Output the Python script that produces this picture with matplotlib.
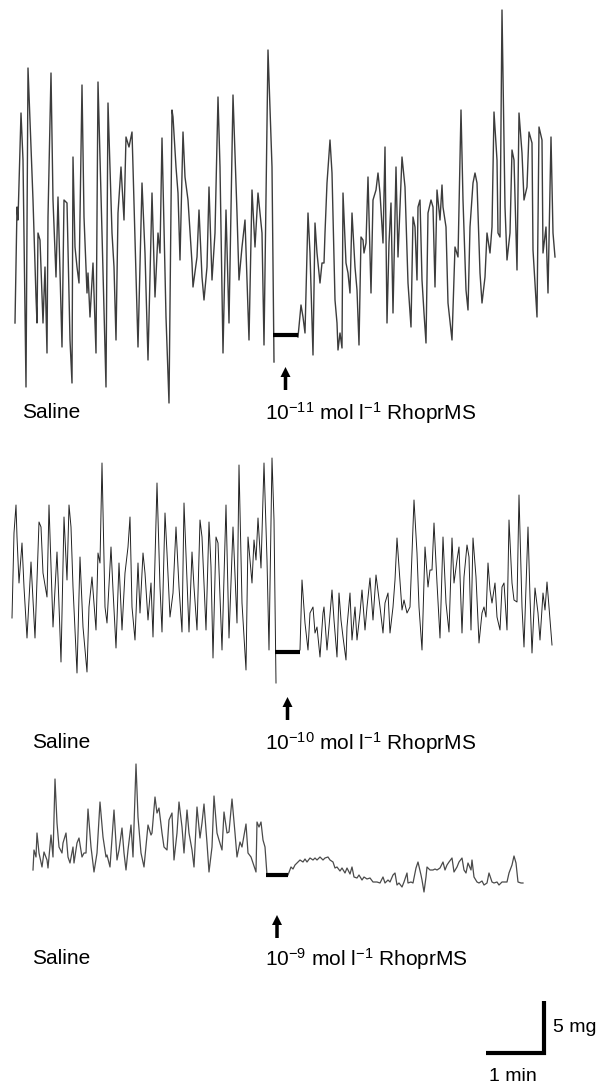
import numpy as np
import matplotlib
matplotlib.use('Agg')
import matplotlib.pyplot as plt
from matplotlib.patches import FancyArrow

plt.rcParams['font.family'] = ['Liberation Sans', 'DejaVu Sans']
plt.rcParams['mathtext.fontset'] = 'custom'
plt.rcParams['mathtext.rm'] = 'Liberation Sans'
plt.rcParams['mathtext.it'] = 'Liberation Sans'

# traces (x, y in page pixels, y down)
# top: saline then 10^-11
top_pre_x = [15, 17, 18, 21, 23, 26, 28, 31, 33, 36, 37, 38, 40, 43, 45, 47, 48, 51, 53, 56, 58, 62, 64, 67, 70, 72, 73, 75, 77, 79,
             82, 84, 87, 88, 90, 93, 96, 98, 102, 106, 108, 112, 114, 116, 118, 121, 124, 126, 129, 132, 133, 138, 142, 145, 148,
             152, 155, 158, 160, 162, 166, 169, 172, 173, 176, 178, 180, 183, 185, 188, 192, 193, 197, 199, 202, 204, 207, 209,
             212, 215, 218, 220, 223, 226, 229, 233, 237, 239, 242, 245, 249, 252, 255, 258, 262, 264, 268, 272, 274]
top_pre_y = [323, 207, 220, 113, 160, 387, 68, 147, 200, 297, 323, 233, 240, 323, 267, 353, 217, 73, 200, 277, 197, 347, 200, 203,
             340, 383, 157, 247, 267, 283, 85, 217, 293, 273, 317, 263, 353, 82, 233, 387, 103, 233, 267, 340, 213, 167, 220, 137,
             147, 132, 167, 347, 183, 253, 360, 193, 297, 233, 253, 138, 317, 403, 110, 117, 167, 193, 260, 132, 177, 200, 263,
             287, 257, 210, 277, 300, 267, 187, 280, 233, 97, 167, 353, 210, 323, 95, 213, 280, 247, 220, 340, 190, 247, 193, 233,
             345, 50, 167, 362]
top_post_x = [298, 301, 303, 305, 308, 310, 313, 315, 317, 320, 322, 324, 325, 327, 330, 332, 335, 337, 338, 340, 342, 343, 346,
              348, 350, 352, 355, 357, 359, 361, 363, 364, 366, 368, 371, 373, 376, 378, 380, 383, 385, 387, 389, 391, 393, 396,
              398, 402, 405, 408, 411, 413, 415, 417, 418, 420, 422, 424, 426, 428, 431, 433, 435, 437, 440, 442, 443, 446, 448,
              452, 455, 458, 461, 463, 466, 468, 470, 473, 475, 477, 480, 482, 485, 487, 490, 492, 494, 497, 498, 500, 502, 505,
              507, 510, 512, 514, 517, 519, 522, 524, 527, 529, 532, 533, 537, 539, 542, 543, 546, 548, 551, 553, 555]
top_post_y = [337, 305, 317, 333, 213, 253, 355, 223, 253, 283, 263, 263, 233, 183, 140, 173, 300, 323, 350, 333, 348, 193, 263,
              273, 293, 213, 267, 290, 345, 237, 240, 253, 243, 177, 293, 200, 190, 173, 193, 243, 147, 323, 243, 203, 313, 167,
              257, 157, 187, 283, 327, 217, 227, 280, 207, 200, 280, 313, 343, 213, 200, 207, 287, 190, 220, 185, 207, 227, 303,
              340, 247, 257, 110, 200, 290, 310, 227, 183, 173, 183, 273, 303, 277, 233, 253, 227, 112, 160, 233, 237, 10, 207,
              260, 233, 150, 160, 270, 113, 153, 200, 187, 132, 143, 250, 317, 127, 140, 253, 227, 293, 137, 233, 257]

# middle: saline then 10^-10
mid_pre_x = [12, 14, 16, 17, 19, 22, 24, 27, 31, 35, 39, 41, 43, 47, 49, 53, 57, 58, 61, 64, 67, 69, 71, 73, 77, 80, 83, 87, 89,
             92, 96, 98, 100, 102, 105, 107, 111, 113, 116, 119, 122, 125, 128, 130, 132, 135, 138, 140, 143, 145, 148, 151,
             153, 157, 160, 162, 165, 167, 170, 173, 176, 179, 182, 184, 187, 189, 192, 194, 197, 200, 202, 206, 209, 211, 213,
             216, 218, 222, 226, 229, 233, 237, 239, 242, 246, 248, 252, 254, 256, 258, 261, 264, 267, 269, 272, 274, 276]
mid_pre_y = [618, 533, 505, 537, 583, 543, 587, 638, 562, 638, 522, 527, 573, 597, 505, 627, 552, 577, 662, 517, 580, 505, 527,
             587, 673, 557, 627, 672, 607, 577, 630, 553, 563, 463, 607, 623, 547, 590, 648, 563, 630, 573, 547, 517, 607, 640,
             563, 613, 553, 573, 620, 583, 637, 483, 587, 632, 513, 553, 617, 593, 527, 587, 632, 503, 580, 632, 552, 587, 630,
             520, 537, 630, 522, 567, 658, 537, 543, 650, 505, 638, 527, 623, 465, 603, 670, 537, 583, 540, 560, 518, 568, 463,
             560, 650, 458, 520, 683]
mid_post_x = [300, 302, 305, 308, 310, 313, 315, 317, 320, 323, 324, 327, 329, 332, 334, 337, 339, 341, 343, 346, 347, 350, 352,
              355, 357, 360, 362, 365, 367, 370, 373, 376, 380, 383, 385, 388, 390, 393, 395, 397, 399, 402, 404, 407, 410, 414,
              417, 419, 422, 425, 428, 430, 432, 434, 437, 440, 443, 446, 449, 452, 454, 457, 459, 462, 464, 467, 469, 471, 473,
              476, 479, 482, 484, 486, 488, 490, 492, 495, 497, 500, 502, 504, 507, 509, 512, 514, 517, 519, 522, 524, 526, 528,
              530, 532, 535, 538, 540, 543, 545, 547, 549, 552]
mid_post_y = [650, 580, 623, 650, 613, 607, 633, 627, 657, 613, 607, 650, 627, 590, 620, 657, 593, 620, 637, 660, 627, 593, 640,
              607, 640, 613, 590, 630, 607, 578, 620, 575, 607, 633, 603, 593, 633, 607, 580, 538, 567, 610, 600, 613, 607, 500,
              553, 607, 650, 547, 587, 570, 570, 523, 583, 638, 537, 603, 632, 538, 583, 560, 547, 633, 577, 545, 557, 630, 538,
              577, 643, 613, 607, 617, 563, 590, 603, 583, 617, 630, 587, 583, 630, 520, 583, 600, 602, 495, 607, 647, 587, 527,
              597, 653, 588, 613, 640, 593, 610, 582, 607, 645]

# bottom: saline then 10^-9
bot_pre_x = [33, 34, 36, 37, 39, 42, 44, 47, 48, 51, 53, 55, 57, 59, 62, 63, 66, 68, 70, 73, 74, 77, 79, 82, 84, 86, 88, 91, 94,
             97, 100, 103, 106, 107, 110, 114, 117, 119, 122, 124, 126, 128, 131, 133, 136, 138, 141, 144, 148, 151, 152, 155,
             157, 159, 162, 164, 167, 169, 172, 174, 177, 179, 182, 184, 187, 189, 192, 194, 197, 200, 202, 204, 207, 209, 212,
             214, 217, 219, 222, 224, 227, 229, 232, 235, 237, 240, 242, 246, 248, 251, 253, 256, 257, 259, 261, 263, 265, 267]
bot_pre_y = [870, 850, 857, 833, 853, 867, 852, 860, 868, 835, 857, 779, 823, 847, 853, 843, 833, 857, 863, 847, 863, 843, 838,
             857, 853, 853, 809, 847, 872, 853, 802, 837, 857, 855, 867, 810, 860, 850, 828, 853, 870, 850, 825, 857, 764, 817,
             853, 867, 825, 835, 833, 797, 813, 808, 833, 847, 850, 820, 813, 860, 833, 802, 827, 853, 810, 833, 850, 867, 807,
             838, 823, 804, 843, 872, 847, 796, 833, 840, 850, 812, 833, 832, 799, 833, 857, 842, 847, 824, 853, 857, 863, 872,
             822, 827, 822, 840, 847, 875]
bot_post_x = [288, 291, 293, 295, 297, 300, 303, 305, 307, 310, 313, 315, 317, 320, 323, 325, 328, 330, 333, 335, 337, 340, 342,
              345, 347, 350, 352, 354, 357, 359, 362, 364, 367, 370, 373, 377, 380, 383, 385, 388, 390, 393, 395, 397, 399, 402,
              404, 407, 408, 411, 413, 416, 418, 421, 422, 424, 426, 427, 430, 433, 435, 437, 440, 443, 445, 447, 449, 452, 454,
              457, 459, 462, 464, 466, 468, 471, 472, 474, 477, 479, 482, 484, 487, 489, 492, 494, 497, 499, 502, 504, 507, 509,
              512, 514, 516, 518, 521, 523]
bot_post_y = [875, 867, 869, 865, 863, 860, 862, 859, 862, 858, 860, 858, 860, 857, 860, 858, 857, 860, 862, 868, 867, 871, 868,
              873, 868, 874, 867, 877, 878, 875, 880, 877, 879, 878, 882, 882, 883, 877, 883, 880, 882, 875, 873, 885, 883, 887,
              882, 873, 883, 882, 883, 868, 862, 875, 880, 892, 877, 867, 870, 870, 869, 870, 868, 862, 870, 865, 862, 858, 872,
              867, 862, 858, 870, 873, 863, 870, 860, 877, 882, 883, 881, 885, 883, 873, 882, 883, 882, 885, 882, 882, 882, 873,
              865, 856, 863, 882, 883, 883]

bar_levels = [335, 652, 875]
concs = ['-11', '-10', '-9']
saline_x = [22, 32, 32]
label_base = [420, 750, 966]
arrow_tails = [390, 720, 938]

panels = [
    (top_pre_x, top_pre_y, top_post_x, top_post_y, '#3c3c3c', 1.0),
    (mid_pre_x, mid_pre_y, mid_post_x, mid_post_y, '#222222', 0.7),
    (bot_pre_x, bot_pre_y, bot_post_x, bot_post_y, '#4a4a4a', 0.9),
]

fig = plt.figure(figsize=(6.03, 10.83), dpi=100)
ax = fig.add_axes([0, 0, 1, 1])
ax.set_xlim(0, 603)
ax.set_ylim(1083, 0)
ax.axis('off')

for i, (px, py, qx, qy, col, lw) in enumerate(panels):
    ax.plot(px, py, color=col, lw=lw, solid_joinstyle='round')
    ax.plot(qx, qy, color=col, lw=lw, solid_joinstyle='round')
    # perfusion bar between the two segments
    x0 = px[-1] - 1
    x1 = qx[0]
    ax.plot([x0, x1], [bar_levels[i], bar_levels[i]], color='black', lw=3, solid_capstyle='butt')
    xm = (x0 + x1) / 2
    ax.add_patch(FancyArrow(xm, arrow_tails[i], 0, -23, width=3.5, head_width=10, head_length=10,
                            length_includes_head=True, color='black', lw=0))
    ax.text(saline_x[i], label_base[i] - 2, 'Saline', fontsize=15, va='baseline', ha='left')
    ax.text(265, label_base[i], r'10$^{' + concs[i] + r'}$ mol l$^{-1}$ RhoprMS', fontsize=15,
            va='baseline', ha='left')

# scale bar: 1 min horizontal, 5 mg vertical
ax.plot([486, 544, 544], [1053, 1053, 1001], color='black', lw=3, solid_joinstyle='miter', solid_capstyle='butt')
ax.text(553, 1032, '5 mg', fontsize=14, va='baseline', ha='left')
ax.text(489, 1081, '1 min', fontsize=14, va='baseline', ha='left')

fig.savefig('out.png', dpi=100)
